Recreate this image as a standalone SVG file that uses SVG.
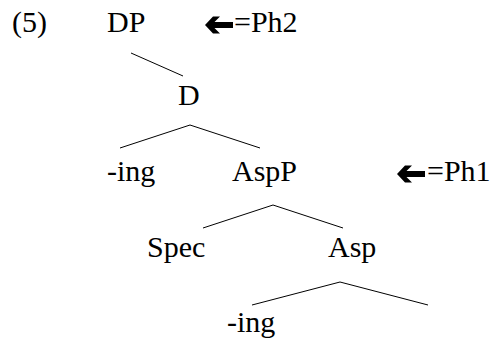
<svg xmlns="http://www.w3.org/2000/svg" width="495" height="344" viewBox="0 0 495 344">
<style>
text{font-family:"Liberation Serif","Times New Roman",serif;font-size:30px;fill:#000}
.e{stroke:#000;stroke-width:1;fill:none}
.arr{fill:#000}
</style>
<defs>
<path id="arrow" class="arr" d="M0,0 L8,-8.5 L15,-8.5 L9.5,-3 L28,-3 L28,3 L9.5,3 L15,8.5 L8,8.5 Z"/>
</defs>
<rect width="495" height="344" fill="#fff"/>
<g id="connectors">
<line class="e" x1="131" y1="53" x2="183" y2="76"/>
<line class="e" x1="120" y1="148" x2="190" y2="125"/>
<line class="e" x1="190" y1="125" x2="260" y2="148"/>
<line class="e" x1="203" y1="228" x2="273" y2="205"/>
<line class="e" x1="273" y1="205" x2="343" y2="228"/>
<line class="e" x1="252" y1="305" x2="340" y2="282"/>
<line class="e" x1="340" y1="282" x2="428" y2="305"/>
</g>
<text x="12" y="32">(5)</text>
<g id="n-DP"><text x="107" y="32">DP</text></g>
<g id="ph2"><use href="#arrow" x="205" y="25"/><text x="234" y="32">=Ph2</text></g>
<g id="n-D"><text x="178" y="105">D</text></g>
<g id="n-ing1"><text x="107" y="181">-ing</text></g>
<g id="n-AspP"><text x="232" y="181">AspP</text></g>
<g id="ph1"><use href="#arrow" x="397" y="174"/><text x="427" y="181">=Ph1</text></g>
<g id="n-Spec"><text x="147" y="257">Spec</text></g>
<g id="n-Asp"><text x="328" y="257">Asp</text></g>
<g id="n-ing2"><text x="227" y="332">-ing</text></g>
</svg>
